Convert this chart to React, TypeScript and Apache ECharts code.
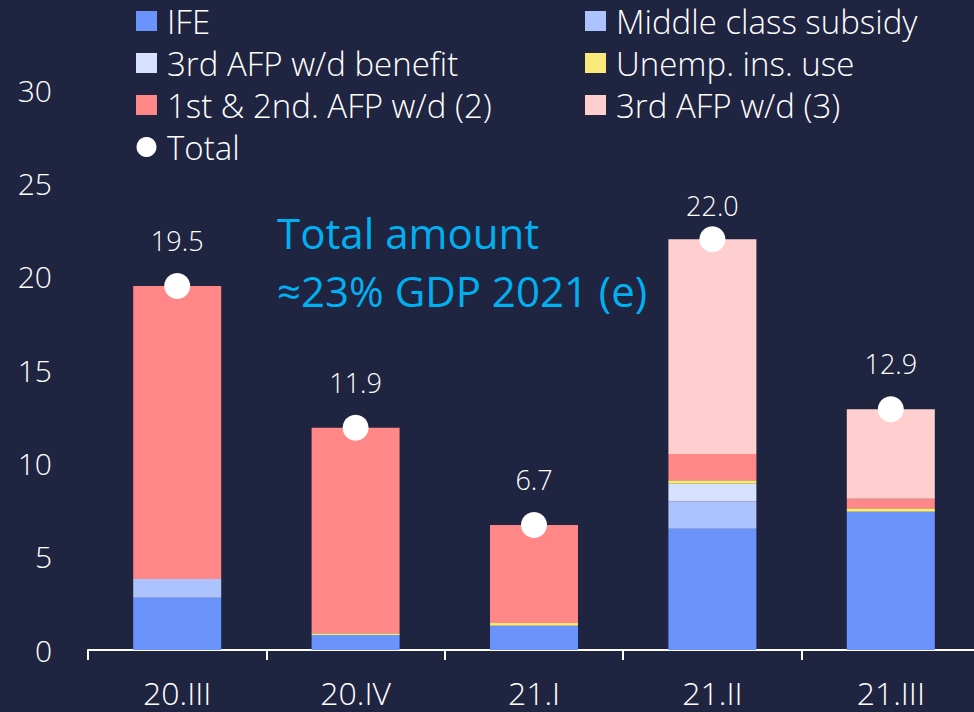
import React, { useEffect, useRef } from "react";
import * as echarts from "echarts";

const categories = ["20.III", "20.IV", "21.I", "21.II", "21.III"];
const ife = [2.8, 0.8, 1.3, 6.5, 7.4];
const middleClass = [1.0, 0, 0, 1.45, 0];
const afpBenefit = [0, 0, 0, 0.95, 0];
const unemp = [0, 0.1, 0.15, 0.2, 0.2];
const afp12 = [15.7, 11.0, 5.25, 1.4, 0.5];
const afp3 = [0, 0, 0, 11.5, 4.8];
const totals = [19.5, 11.9, 6.7, 22.0, 12.9];
const totalLabelDistance = [19, 19, 19, 7, 19];
const yTicks = [0, 5, 10, 15, 20, 25, 30];

const FONT = "'Open Sans'";
const BG = "#1f2440";

export default function App() {
  const ref = useRef<HTMLDivElement>(null);
  useEffect(() => {
    const chart = echarts.init(ref.current!, null, { renderer: "svg" });
    const barSeries = (name: string, data: number[], color: string) => ({
      name,
      type: "bar",
      stack: "s",
      data,
      barWidth: 88,
      itemStyle: { color },
      emphasis: { disabled: true },
    });
    const legendText = {
      color: "#ffffff",
      fontSize: 33,
      fontFamily: FONT,
      fontWeight: 300,
      lineHeight: 42,
      padding: [0, 0, 0, 5],
    };
    chart.setOption({
      animation: false,
      backgroundColor: BG,
      textStyle: { fontFamily: FONT },
      grid: { left: 88, right: 10, top: 90, bottom: 62 },
      legend: [
        {
          orient: "vertical",
          left: 131,
          top: -5,
          itemWidth: 21,
          itemHeight: 20,
          itemGap: 0,
          textStyle: legendText,
          data: [
            { name: "IFE", icon: "rect" },
            { name: "3rd AFP w/d benefit", icon: "rect" },
            { name: "1st & 2nd. AFP w/d (2)", icon: "rect" },
            { name: "Total", icon: "circle" },
          ],
        },
        {
          orient: "vertical",
          left: 580,
          top: -5,
          itemWidth: 21,
          itemHeight: 20,
          itemGap: 0,
          textStyle: legendText,
          data: [
            { name: "Middle class subsidy", icon: "rect" },
            { name: "Unemp. ins. use", icon: "rect" },
            { name: "3rd AFP w/d (3)", icon: "rect" },
          ],
        },
      ],
      xAxis: {
        type: "category",
        data: categories,
        axisLine: { lineStyle: { color: "#ffffff", width: 2 } },
        axisTick: { show: true, length: 10, lineStyle: { color: "#ffffff", width: 2 } },
        axisLabel: {
          color: "#ffffff",
          fontSize: 32,
          lineHeight: 24,
          fontFamily: FONT,
          fontWeight: 300,
          margin: 30,
        },
      },
      yAxis: {
        type: "value",
        min: 0,
        max: 30,
        interval: 5,
        axisLine: { show: false },
        axisTick: { show: false },
        splitLine: { show: false },
        axisLabel: {
          color: "#ffffff",
          fontSize: 30,
          fontFamily: FONT,
          fontWeight: 300,
          margin: 36,
          formatter: (v: number) => (yTicks.includes(v) ? String(v) : ""),
        },
      },
      series: [
        barSeries("IFE", ife, "#6b93fc"),
        barSeries("Middle class subsidy", middleClass, "#adc3fd"),
        barSeries("3rd AFP w/d benefit", afpBenefit, "#d6e0ff"),
        barSeries("Unemp. ins. use", unemp, "#f9e97a"),
        barSeries("1st & 2nd. AFP w/d (2)", afp12, "#ff8787"),
        barSeries("3rd AFP w/d (3)", afp3, "#ffcfcf"),
        {
          name: "Total",
          type: "scatter",
          data: totals.map((v, i) => ({
            value: v,
            label: { distance: totalLabelDistance[i] },
          })),
          symbol: "circle",
          symbolSize: 26,
          itemStyle: { color: "#ffffff", opacity: 1 },
          z: 5,
          label: {
            show: true,
            position: "top",
            color: "#ffffff",
            fontSize: 27,
            fontFamily: FONT,
            fontWeight: 300,
            formatter: (p: any) => Number(p.value).toFixed(1),
          },
          emphasis: { disabled: true },
        },
      ],
      graphic: [
        {
          type: "text",
          left: 277,
          top: 203,
          style: {
            text: "Total amount\n≈23% GDP 2021 (e)",
            fill: "#00b0f0",
            font: `400 42px ${FONT}`,
            lineHeight: 58,
          },
        },
      ],
    });
    return () => chart.dispose();
  }, []);
  return (
    <div style={{ position: "fixed", left: 0, top: 0, width: 974, height: 712, overflow: "hidden", background: BG }}>
      <div ref={ref} style={{ width: 990, height: 712 }} />
    </div>
  );
}
